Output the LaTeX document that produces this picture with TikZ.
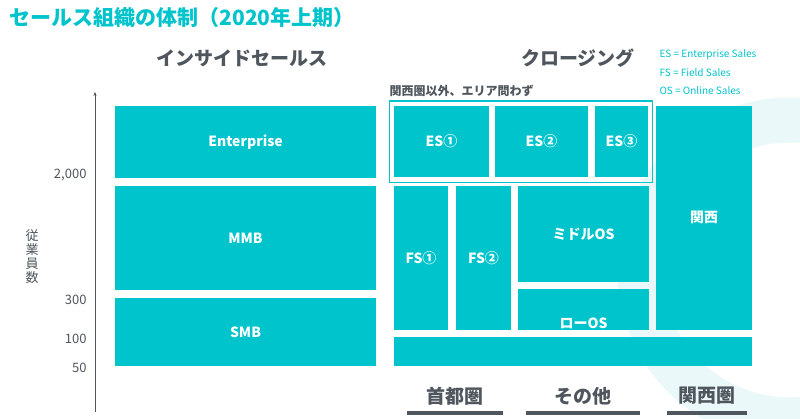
\documentclass[tikz,border=0pt]{standalone}
\usepackage{fontspec}
\setmainfont{Noto Sans CJK JP}
\usetikzlibrary{arrows.meta}
\definecolor{tealbox}{RGB}{0,196,204}
\definecolor{textgray}{RGB}{80,86,94}
\definecolor{bgring}{RGB}{234,248,249}

\tikzset{
  unit/.style={fill=tealbox, draw=none},
  lbl/.style={white, font=\fontsize{14}{14}\selectfont\bfseries},
  head/.style={textgray, font=\fontsize{19}{19}\selectfont\bfseries},
  legend/.style={tealbox, anchor=west, font=\fontsize{10}{10}\selectfont},
  ytick/.style={textgray, anchor=east, font=\fontsize{13}{13}\selectfont}
}

\begin{document}
\begin{tikzpicture}[x=1pt, y=-1pt]
    \useasboundingbox[fill=white] (0,0) rectangle (800,419);
    % background ring
    \begin{scope}
      \clip (0,0) rectangle (800,419);
      \draw[bgring, line width=45] (790,270) circle (150);
    \end{scope}

    % title
    \node[tealbox, anchor=west, font=\fontsize{21}{21}\selectfont\bfseries] (title) at (6,18) {セールス組織の体制（2020年上期）};

    % headers
    \node[head] (inside) at (242,58) {インサイドセールス};
    \node[head] (closing) at (578,58) {クロージング};

    % legend
    \node[legend] (lgES) at (656,55) {ES = Enterprise Sales};
    \node[legend] (lgFS) at (656,73) {FS = Field Sales};
    \node[legend] (lgOS) at (656,91) {OS = Online Sales};

    % y axis
    \coordinate (ybot) at (95,412);
    \coordinate (ytop) at (95,92);
    \draw[textgray, -{Stealth[length=4pt]}] (ybot) -- (ytop);
    \node[ytick] (y2000) at (90,175) {2,000};
    \node[ytick] (y300) at (90,300) {300};
    \node[ytick] (y100) at (90,339) {100};
    \node[ytick] (y50) at (90,368) {50};
    \node[textgray, font=\fontsize{13}{14}\selectfont, align=center] (yname) at (32,257) {従\\業\\員\\数};

    % inside sales
    \fill[unit] (115,106) rectangle (376,178);
    \node[lbl] (ent) at (245.5,142) {Enterprise};
    \fill[unit] (115,186) rectangle (376,290);
    \node[lbl] (mmb) at (245.5,238) {MMB};
    \fill[unit] (115,298) rectangle (376,366);
    \node[lbl] (smb) at (245.5,332) {SMB};

    % closing: outside Kansai
    \node[textgray, anchor=west, font=\fontsize{12}{12}\selectfont\bfseries] (area) at (386,91) {関西圏以外、エリア問わず};
    \draw[tealbox, line width=1.5] (389.5,101) rectangle (652.5,182.5);
    \fill[unit] (394,106) rectangle (489,177);
    \node[lbl] (es1) at (441.5,141.5) {ES①};
    \fill[unit] (495,106) rectangle (588,177);
    \node[lbl] (es2) at (541.5,141.5) {ES②};
    \fill[unit] (595,106) rectangle (648,177);
    \node[lbl] (es3) at (621.5,141.5) {ES③};

    \fill[unit] (394,186) rectangle (448,330);
    \node[lbl] (fs1) at (421,258) {FS①};
    \fill[unit] (456,186) rectangle (511,330);
    \node[lbl] (fs2) at (483.5,258) {FS②};
    \fill[unit] (518,186) rectangle (649,282);
    \node[lbl] (midos) at (583.5,234) {ミドルOS};
    \fill[unit] (518,289) rectangle (649,330);
    \node[lbl] (lowos) at (583.5,323) {ローOS};
    \fill[unit] (394,337) rectangle (752,366);

    % Kansai
    \fill[unit] (656,106) rectangle (752,330);
    \node[lbl] (kansai) at (704,217) {関西};

    % regions
    \node[head] (tokyo) at (455,396) {首都圏};
    \node[head] (other) at (583,396) {その他};
    \node[head] (kansaiken) at (707,396) {関西圏};
    \fill[textgray] (407,411) rectangle (503,415);
    \fill[textgray] (526,411) rectangle (640,415);
    \fill[textgray] (667,411) rectangle (747,415);
\end{tikzpicture}
\end{document}
